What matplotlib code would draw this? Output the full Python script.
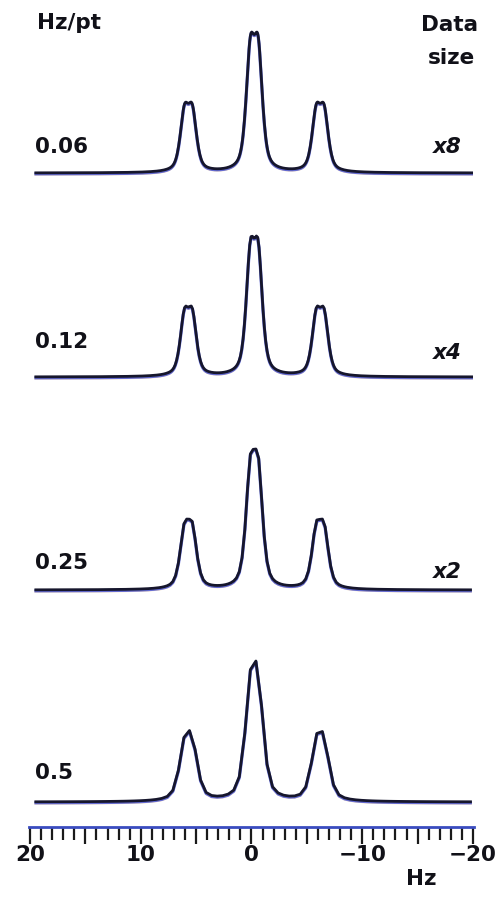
import numpy as np
import matplotlib.pyplot as plt

# digital resolution of each trace (Hz per point) and the data-size label next to it
hz_per_pt = [0.06, 0.12, 0.25, 0.5]
res_labels = ["0.06", "0.12", "0.25", "0.5"]
size_labels = ["x8", "x4", "x2", ""]

# the triplet: line positions (Hz), relative intensities,
# the small extra splitting seen at the tops and the line width per trace
line_pos = [5.7, -0.25, -6.2]
line_amp = [1, 2, 1]
split_hz = 0.72
fwhm_hz = [0.9, 0.9, 0.95, 1.15]
lorentz_frac = 0.55

# ruler
x_major = [20, 15, 10, 5, 0, -5, -10, -15, -20]
x_major_labels = ["20", "", "10", "", "0", "", "\u221210", "", "\u221220"]
x_minor = list(range(-20, 21))


def spectrum(x, fwhm):
    g = fwhm / 2
    y = np.zeros_like(x)
    for p, a in zip(line_pos, line_amp):
        for s in (-split_hz / 2, split_hz / 2):
            d = x - p - s
            shape = lorentz_frac * g**2 / (g**2 + d**2) \
                + (1 - lorentz_frac) * np.exp(-4 * np.log(2) * d**2 / fwhm**2)
            y += 0.5 * a * shape
    return y


W, H = 496, 898
fig = plt.figure(figsize=(W / 100, H / 100), dpi=100)
fig.patch.set_facecolor("white")

xlim = (20 + 30 / 11.075, -20 - 23 / 11.075)

ax = fig.add_axes([0, 0, 1, 1])
ax.set_xlim(*xlim)
ax.set_ylim(H, 0)
ax.axis("off")

bold = dict(fontsize=15.5, fontweight="bold", family="DejaVu Sans", color="#111118")

# stacked traces, baseline position (px) and peak height (px) are layout only
baselines = [173, 377, 590, 802]
peak_px = 141
res_y = [147, 342, 563, 773]
size_y = [147, 353, 572, 0]

for i, r in enumerate(hz_per_pt):
    x = np.arange(19.6, -20 - r / 2, -r)
    s = spectrum(x, fwhm_hz[i])
    y = baselines[i] - peak_px * s / s.max()
    ax.plot(x, y + 2.0, color="#f0b060", lw=1.2, alpha=0.45, solid_capstyle="butt")
    ax.plot(x, y + 1.0, color="#4a58d8", lw=2.3, alpha=0.85, solid_capstyle="butt")
    ax.plot(x, y, color="#16162c", lw=2.0, solid_capstyle="butt")

    ax.text(20 - (35 - 30) / 11.075, res_y[i], res_labels[i], ha="left", va="center", **bold)
    if size_labels[i]:
        ax.text(-20 + (473 - 462) / 11.075, size_y[i], size_labels[i],
                ha="right", va="center", style="italic", **bold)

ax.text(20 - (37 - 30) / 11.075, 23, "Hz/pt", ha="left", va="center", **bold)
ax.text(-20 - (478 - 473) / 11.075, 25, "Data", ha="right", va="center", **bold)
ax.text(-20 - (475 - 473) / 11.075, 58, "size", ha="right", va="center", **bold)
ax.text(-15.3, 879, "Hz", ha="center", va="center", **bold)

# frequency ruler below the stack
ruler_y = 827
axr = fig.add_axes([0, 1 - ruler_y / H, 1, 0.0005])
axr.set_xlim(*xlim)
axr.patch.set_alpha(0)
for side in ("top", "left", "right"):
    axr.spines[side].set_visible(False)
axr.spines["bottom"].set_color("#3a4cc0")
axr.spines["bottom"].set_linewidth(2.0)
axr.spines["bottom"].set_bounds(-20.1, 20.1)
axr.set_yticks([])
axr.set_xticks(x_major, x_major_labels)
axr.set_xticks(x_minor, minor=True)
axr.tick_params(axis="x", which="major", direction="out", length=12, width=1.6,
                color="#1a1a1a", pad=1)
axr.tick_params(axis="x", which="minor", direction="out", length=9.5, width=1.6,
                color="#1a1a1a")
for lab in axr.get_xticklabels():
    lab.set_fontsize(15.5)
    lab.set_fontweight("bold")
    lab.set_color("#111118")

fig.savefig("out.png", dpi=100)
